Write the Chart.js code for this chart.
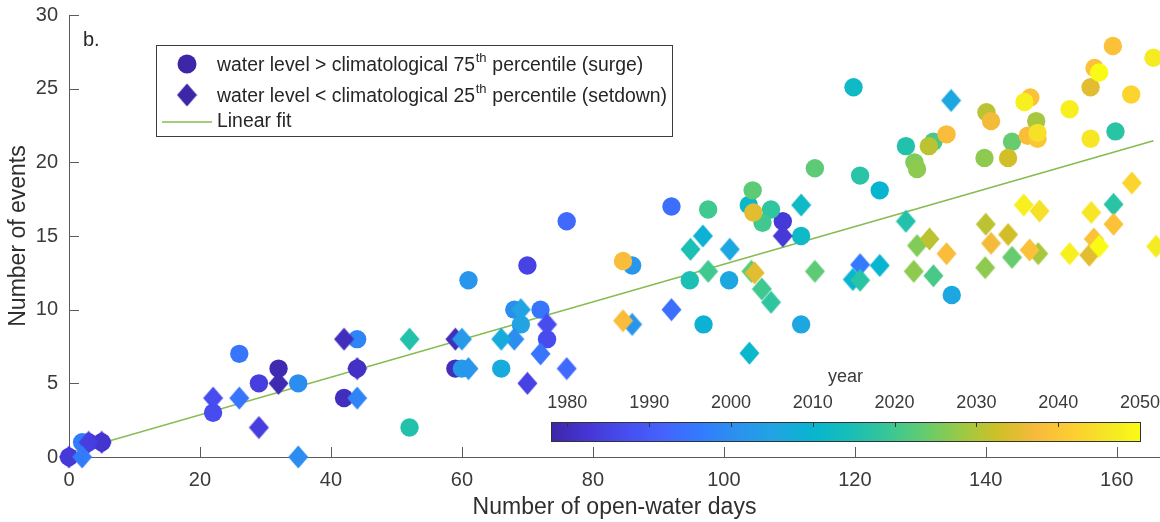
<!DOCTYPE html>
<html>
<head>
<meta charset="utf-8">
<script src="https://cdn.jsdelivr.net/npm/chart.js@4.4.1/dist/chart.umd.min.js"></script>
<style>
  html, body { margin: 0; padding: 0; background: #ffffff; }
  #wrap { width: 1160px; height: 522px; position: relative; }
</style>
</head>
<body>
<div id="wrap"><canvas id="chart" width="1160" height="522"></canvas></div>
<script>
// Events with water level above the 75th percentile (surge), per year
const surgeDays   = [0, 2, 3, 5, 22, 26, 29, 32, 35, 42, 44, 44, 52, 59, 60, 61, 66, 68, 69, 70, 72, 73, 76,
                     84.6, 86, 92, 97.6, 94.8, 96.9, 100.8, 103.8, 104.4, 104.5, 105.9, 107.2, 109, 111.8, 111.8,
                     113.9, 119.8, 120.8, 123.8, 127.8, 129.1, 129.5, 132, 131.3, 134, 134.8, 140.1, 140.8, 139.8,
                     143.4, 144, 146.8, 145.9, 147.7, 146.4, 147.9, 147.9, 152.8, 156.6, 157.3, 156, 156, 159.4,
                     159.8, 162.2, 165.6];
const surgeEvents = [0, 1, 1, 1, 3, 7, 5, 6, 5, 4, 8, 6, 2, 6, 6, 12, 6, 10, 9, 13, 10, 8, 16,
                     13.3, 13, 17, 16.8, 12, 9, 12, 17.1, 18.1, 16.6, 15.9, 16.8, 16, 15, 9,
                     19.6, 25.1, 19.1, 18.1, 21.1, 20.0, 19.55, 21.4, 21.1, 21.9, 11, 23.4, 22.8, 20.3,
                     20.3, 21.4, 24.4, 24.1, 22.8, 21.8, 22.0, 21.6, 23.6, 26.4, 26.1, 25.1, 21.6, 27.9,
                     22.1, 24.6, 27.1];
const surgeYears  = [1983, 1996, 1984, 1982, 1987, 1995, 1984, 1979, 2000, 1980, 1998, 1981, 2016, 1980, 2003, 2002, 2007, 2000, 2005, 1985, 1995, 1987, 1993,
                     2038, 2002, 1994, 2020, 2015, 2009, 2006, 2011, 2023, 2035, 2020, 2018, 1983, 2012, 2006,
                     2023, 2012, 2017, 2010, 2016, 2026, 2027, 2021, 2031, 2038, 2006, 2031, 2037, 2027,
                     2033, 2024, 2039, 2048, 2029, 2038, 2045, 2040, 2048, 2039, 2050, 2035, 2046, 2039,
                     2017, 2043, 2047];

// Events with water level below the 25th percentile (setdown), per year
const setdownDays   = [0, 2, 3, 5, 22, 26, 29, 32, 35, 42, 44, 44, 52, 59, 60, 61, 66, 68, 69, 70, 72, 73, 76,
                       84.6, 86, 92, 94.9, 96.8, 97.6, 100.9, 103.9, 104.2, 104.7, 105.8, 107.2, 109, 111.8,
                       113.9, 119.7, 120.8, 120.8, 123.8, 127.8, 129.5, 131.4, 134, 129, 132, 134.7, 140,
                       140.8, 143.4, 139.9, 144, 145.8, 148.2, 146.7, 148, 152.8, 156.1, 156.5, 157.3, 155.8,
                       159.5, 159.5, 162.3, 166];
const setdownEvents = [0, 0, 1, 1, 4, 4, 2, 5, 0, 8, 4, 6, 8, 8, 8, 6, 8, 8, 10, 5, 7, 9, 6,
                       9.25, 9, 10, 14.1, 15, 12.6, 14.1, 7.05, 12.6, 12.5, 11.4, 10.5, 15, 17.1,
                       12.6, 12.05, 13.05, 12.0, 13.0, 16.0, 14.35, 14.8, 13.8, 12.6, 12.3, 24.2, 15.8,
                       14.5, 15.1, 12.85, 13.55, 17.1, 16.7, 14.05, 13.8, 13.8, 16.6, 14.8, 14.3, 13.7,
                       17.15, 15.8, 18.6, 14.3];
const setdownYears  = [1983, 1996, 1984, 1982, 1987, 1995, 1984, 1979, 2000, 1980, 1998, 1981, 2016, 1980, 2003, 2002, 2007, 2000, 2005, 1985, 1995, 1987, 1993,
                       2038, 2002, 1994, 2015, 2009, 2020, 2006, 2011, 2023, 2035, 2020, 2018, 1983, 2012,
                       2023, 2010, 1996, 2017, 2010, 2016, 2026, 2031, 2038, 2027, 2021, 2006, 2031,
                       2037, 2033, 2027, 2024, 2048, 2045, 2039, 2029, 2048, 2046, 2039, 2050, 2035,
                       2017, 2039, 2043, 2047];

// Axis ticks and colour scale
const xTickValues    = [0, 20, 40, 60, 80, 100, 120, 140, 160];
const yTickValues    = [0, 5, 10, 15, 20, 25, 30];
const yearTickValues = [1980, 1990, 2000, 2010, 2020, 2030, 2040, 2050];
const yearLimits     = [1978, 2050];

// Least-squares line through all events
const fitIntercept = 0.3;
const fitSlope     = 0.1278;

// Parula colour map (sampled)
const PARULA_IDX = [0, 4, 8, 12, 16, 20, 24, 28, 32, 36, 40, 44, 48, 52, 56, 60, 63];
const PARULA = [
  [0.2422, 0.1504, 0.6603], [0.2706, 0.2147, 0.8364], [0.2813, 0.3006, 0.9414],
  [0.2699, 0.3892, 0.9906], [0.1963, 0.4847, 0.9892], [0.1687, 0.5703, 0.9359],
  [0.1248, 0.6459, 0.8883], [0.0297, 0.7082, 0.8163], [0.0964, 0.7451, 0.7120],
  [0.2161, 0.7793, 0.5923], [0.3909, 0.8011, 0.4371], [0.6174, 0.7876, 0.2612],
  [0.8203, 0.7498, 0.1535], [0.9728, 0.7298, 0.2394], [0.9892, 0.8136, 0.1885],
  [0.9597, 0.9135, 0.1423], [0.9769, 0.9839, 0.0805]
];
function parula(t) {
  t = Math.min(1, Math.max(0, t)) * 63;
  let i = 0;
  while (i < PARULA_IDX.length - 2 && PARULA_IDX[i + 1] < t) i++;
  const u = (t - PARULA_IDX[i]) / (PARULA_IDX[i + 1] - PARULA_IDX[i]);
  const a = PARULA[i], b = PARULA[i + 1];
  const c = a.map((v, k) => Math.round(255 * (v + (b[k] - v) * u)));
  return `rgb(${c[0]},${c[1]},${c[2]})`;
}
function yearColor(year) {
  return parula((year - yearLimits[0]) / (yearLimits[1] - yearLimits[0]));
}

// Slightly tall diamond marker, rendered once per colour
const diamondCache = {};
function diamondMarker(color) {
  if (diamondCache[color]) return diamondCache[color];
  const w = 21, h = 24;
  const cv = document.createElement('canvas');
  cv.width = w; cv.height = h;
  const g = cv.getContext('2d');
  g.fillStyle = color;
  g.beginPath();
  g.moveTo(w / 2, 0.5); g.lineTo(w - 0.5, h / 2); g.lineTo(w / 2, h - 0.5); g.lineTo(0.5, h / 2);
  g.closePath();
  g.fill();
  diamondCache[color] = cv;
  return cv;
}

// Points sorted by year so that later years are drawn on top
function buildPoints(days, events, years) {
  return days.map((d, i) => ({ x: d, y: events[i], year: years[i] }))
             .sort((a, b) => a.year - b.year);
}
const surgePoints   = buildPoints(surgeDays, surgeEvents, surgeYears);
const setdownPoints = buildPoints(setdownDays, setdownEvents, setdownYears);

const allDays = surgeDays.concat(setdownDays);
const fitStart = Math.min(...allDays);
const fitEnd = Math.max(...allDays) - 0.4;
const fitPoints = [
  { x: fitStart, y: fitIntercept + fitSlope * fitStart },
  { x: fitEnd,   y: fitIntercept + fitSlope * fitEnd }
];

const FONT = '"Liberation Sans", Arial, Helvetica, sans-serif';
const AXIS_COLOR = '#5b5b5b';
const TEXT_COLOR = '#3a3a3a';
const FIT_COLOR = '#86bb4f';

// Extra drawing: inward ticks, panel tag, legend and colour bar
const decorations = {
  id: 'decorations',
  beforeDatasetsDraw(chart) {
    const { ctx, chartArea, scales } = chart;
    ctx.save();
    ctx.strokeStyle = AXIS_COLOR;
    ctx.lineWidth = 1;
    ctx.beginPath();
    xTickValues.forEach(v => {
      const px = Math.round(scales.x.getPixelForValue(v)) + 0.5;
      ctx.moveTo(px, chartArea.bottom);
      ctx.lineTo(px, chartArea.bottom - 10);
    });
    yTickValues.forEach(v => {
      const py = Math.round(scales.y.getPixelForValue(v)) + 0.5;
      ctx.moveTo(chartArea.left, py);
      ctx.lineTo(chartArea.left + 10, py);
    });
    ctx.stroke();
    ctx.restore();
  },
  afterDraw(chart) {
    const { ctx } = chart;
    ctx.save();

    // panel tag
    ctx.fillStyle = '#262626';
    ctx.font = `20px ${FONT}`;
    ctx.textBaseline = 'middle';
    ctx.textAlign = 'left';
    ctx.fillText('b.', 83, 40);

    // legend
    const lx = 156, ly = 45, lw = 516, lh = 91;
    ctx.fillStyle = '#ffffff';
    ctx.fillRect(lx, ly, lw, lh);
    ctx.strokeStyle = '#3c3c3c';
    ctx.lineWidth = 1;
    ctx.strokeRect(lx + 0.5, ly + 0.5, lw, lh);

    const legendColor = parula(0);
    ctx.fillStyle = legendColor;
    ctx.beginPath();
    ctx.arc(187, 64, 9.5, 0, Math.PI * 2);
    ctx.fill();
    const dm = diamondMarker(legendColor);
    ctx.drawImage(dm, 187 - dm.width / 2, 95 - dm.height / 2);
    ctx.strokeStyle = FIT_COLOR;
    ctx.lineWidth = 1.6;
    ctx.beginPath();
    ctx.moveTo(162, 122); ctx.lineTo(212, 122);
    ctx.stroke();

    const LEG = 19.4;
    const drawSup = (pre, sup, post, x, y) => {
      ctx.font = `${LEG}px ${FONT}`;
      ctx.fillStyle = '#262626';
      ctx.fillText(pre, x, y);
      let cx = x + ctx.measureText(pre).width;
      ctx.font = `13px ${FONT}`;
      ctx.fillText(sup, cx + 0.5, y - 8);
      cx += ctx.measureText(sup).width + 1;
      ctx.font = `${LEG}px ${FONT}`;
      ctx.fillText(post, cx, y);
    };
    ctx.textBaseline = 'middle';
    drawSup('water level > climatological 75', 'th', ' percentile (surge)', 217, 66);
    drawSup('water level < climatological 25', 'th', ' percentile (setdown)', 217, 97);
    ctx.font = `${LEG}px ${FONT}`;
    ctx.fillText('Linear fit', 217, 122);

    // colour bar
    const cbL = 551, cbR = 1140, cbT = 422, cbB = 441;
    const grad = ctx.createLinearGradient(cbL, 0, cbR, 0);
    for (let k = 0; k <= 64; k++) grad.addColorStop(k / 64, parula(k / 64));
    ctx.fillStyle = grad;
    ctx.fillRect(cbL, cbT, cbR - cbL, cbB - cbT);
    ctx.strokeStyle = '#333333';
    ctx.lineWidth = 1;
    ctx.strokeRect(cbL + 0.5, cbT + 0.5, cbR - cbL, cbB - cbT);

    ctx.fillStyle = TEXT_COLOR;
    ctx.font = `18px ${FONT}`;
    ctx.textAlign = 'center';
    ctx.textBaseline = 'middle';
    ctx.beginPath();
    yearTickValues.forEach(yr => {
      const px = cbL + (yr - yearLimits[0]) / (yearLimits[1] - yearLimits[0]) * (cbR - cbL);
      ctx.moveTo(Math.round(px) + 0.5, cbT);
      ctx.lineTo(Math.round(px) + 0.5, cbT + 5);
      ctx.fillText(String(yr), px, 403);
    });
    ctx.stroke();
    ctx.fillText('year', (cbL + cbR) / 2, 377);

    ctx.restore();
  }
};

Chart.defaults.font.family = FONT;

new Chart(document.getElementById('chart'), {
  type: 'scatter',
  data: {
    datasets: [
      {
        label: 'water level < climatological 25th percentile (setdown)',
        data: setdownPoints,
        pointStyle: setdownPoints.map(p => diamondMarker(yearColor(p.year))),
        pointRadius: 11,
        pointBorderWidth: 0,
        backgroundColor: setdownPoints.map(p => yearColor(p.year)),
        borderColor: setdownPoints.map(p => yearColor(p.year)),
        clip: false,
        order: 0
      },
      {
        label: 'water level > climatological 75th percentile (surge)',
        data: surgePoints,
        pointStyle: 'circle',
        pointRadius: 9.2,
        pointBorderWidth: 0,
        backgroundColor: surgePoints.map(p => yearColor(p.year)),
        borderColor: surgePoints.map(p => yearColor(p.year)),
        clip: false,
        order: 1
      },
      {
        type: 'line',
        label: 'Linear fit',
        data: fitPoints,
        borderColor: FIT_COLOR,
        borderWidth: 1.6,
        pointRadius: 0,
        fill: false,
        order: 2
      }
    ]
  },
  options: {
    responsive: false,
    animation: false,
    events: [],
    layout: { autoPadding: false, padding: { top: 15, right: 0, bottom: 0, left: 0 } },
    plugins: { legend: { display: false }, tooltip: { enabled: false } },
    scales: {
      x: {
        type: 'linear',
        min: 0,
        max: 166.6,
        afterBuildTicks(scale) { scale.ticks = xTickValues.map(v => ({ value: v })); },
        afterFit(scale) {
          scale.height = 65;
          scale.paddingLeft = 0; scale.paddingRight = 0;
        },
        grid: { display: false, drawTicks: false },
        border: { display: true, color: AXIS_COLOR, width: 1 },
        ticks: { color: TEXT_COLOR, padding: 11, maxRotation: 0, font: { size: 20 } },
        title: {
          display: true,
          text: 'Number of open-water days',
          color: '#2e2e2e',
          font: { size: 23 },
          padding: { top: 0, bottom: 1 }
        }
      },
      y: {
        type: 'linear',
        min: 0,
        max: 30,
        afterBuildTicks(scale) { scale.ticks = yTickValues.map(v => ({ value: v })); },
        afterFit(scale) {
          scale.width = 69;
          scale.paddingTop = 0; scale.paddingBottom = 0;
        },
        grid: { display: false, drawTicks: false },
        border: { display: true, color: AXIS_COLOR, width: 1 },
        ticks: { color: TEXT_COLOR, padding: 11, font: { size: 20 } },
        title: {
          display: true,
          text: 'Number of events',
          color: '#2e2e2e',
          font: { size: 23 },
          padding: { top: 5, bottom: 0 }
        }
      }
    }
  },
  plugins: [decorations]
});
</script>
</body>
</html>
